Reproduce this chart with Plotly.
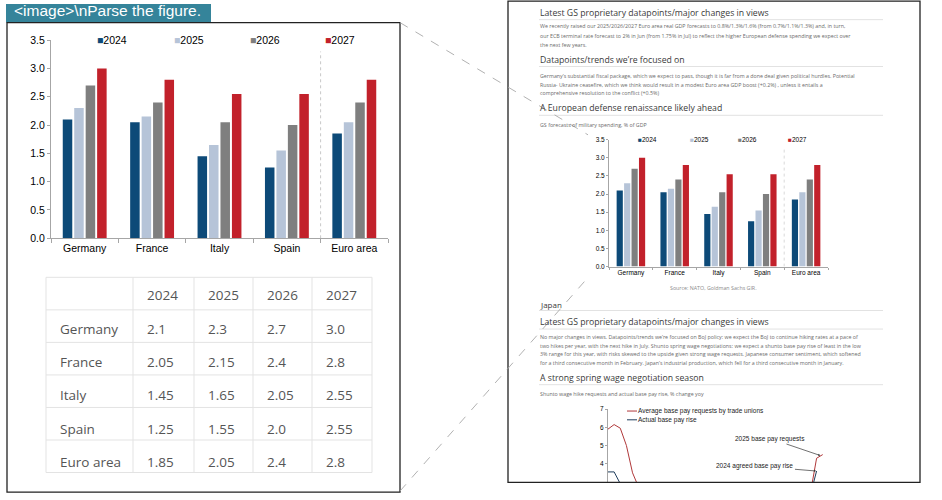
import plotly.graph_objects as go

W, H = 942, 500


def px(x):
    return x / W


def py(y):
    return 1 - y / H


# ---------------- data ----------------
categories = ["Germany", "France", "Italy", "Spain", "Euro area"]
years = ["2024", "2025", "2026", "2027"]
v2024 = [2.1, 2.05, 1.45, 1.25, 1.85]
v2025 = [2.3, 2.15, 1.65, 1.55, 2.05]
v2026 = [2.7, 2.4, 2.05, 2.0, 2.4]
v2027 = [3.0, 2.8, 2.55, 2.55, 2.8]
series = [v2024, v2025, v2026, v2027]

wage_years = list(range(1990, 2026))
pay_requests = [5.9, 6.15, 5.95, 5.0, 3.5, 2.7, 2.5, 2.4, 2.3, 1.8,
                1.5, 1.2, 0.8, 0.5, 0.5, 0.5, 0.6, 0.7, 0.8, 0.8,
                0.5, 0.5, 0.5, 0.5, 1.0, 2.0, 2.0, 1.8, 1.8, 1.8,
                1.7, 1.6, 1.8, 2.4, 4.3, 4.5]
pay_actual = [3.55, 3.55, 2.9, 2.2, 1.8, 1.2, 1.0, 0.9, 0.7, 0.4,
              0.3, 0.3, 0.1, 0.0, 0.0, 0.0, 0.0, 0.0, 0.0, 0.0,
              0.0, 0.0, 0.0, 0.0, 0.4, 0.7, 0.4, 0.5, 0.5, 0.5,
              0.3, 0.1, 0.6, 2.3, 3.6, None]

# ---------------- styles ----------------
colors = ["#0d4a78", "#b6c4d8", "#7f7f7f", "#c2212b"]
CHART_FONT = "Arial, Liberation Sans, sans-serif"
DOC_FONT = "Open Sans, Noto Sans, sans-serif"
AXIS_COLOR = "#a6a6a6"
GRID = "#e3e3e3"


def fmt(v):
    s = f"{v:.2f}"
    if s.endswith("0"):
        s = s[:-1]
    return s


fig = go.Figure()

# bars: zoomed chart (x/y) and small chart in document (x2/y2)
for xa, ya in (("x", "y"), ("x2", "y2")):
    for name, vals, col in zip(years, series, colors):
        fig.add_trace(go.Bar(x=categories, y=vals, name=name, marker_color=col,
                             marker_line_width=0, xaxis=xa, yaxis=ya,
                             showlegend=False, hoverinfo="skip"))

# wage lines (x3/y3)
fig.add_trace(go.Scatter(x=wage_years, y=pay_requests, mode="lines",
                         line=dict(color="#b0383a", width=1), xaxis="x3", yaxis="y3",
                         showlegend=False, hoverinfo="skip"))
fig.add_trace(go.Scatter(x=wage_years, y=pay_actual, mode="lines",
                         line=dict(color="#1f3d5c", width=1), xaxis="x3", yaxis="y3",
                         showlegend=False, hoverinfo="skip"))

# table (text only; grid drawn with shapes so text can sit centred in rows)
TBL_X = [46, 133, 194, 253, 312, 372]
TBL_TOP, TBL_BOT = 278, 478
ROW_H = (TBL_BOT - TBL_TOP) / 6
SHIFT_X, SHIFT_Y = 6, 5
cell_cols = [categories] + [[fmt(s[i]) for i in range(len(categories))] for s in series]
fig.add_trace(go.Table(
    domain=dict(x=[px(TBL_X[0] + SHIFT_X), px(TBL_X[-1] + SHIFT_X)],
                y=[py(TBL_BOT + SHIFT_Y), py(TBL_TOP + SHIFT_Y)]),
    columnwidth=[TBL_X[i + 1] - TBL_X[i] for i in range(5)],
    header=dict(values=[""] + years, height=ROW_H, align="left",
                fill_color="rgba(0,0,0,0)", line=dict(color="rgba(0,0,0,0)", width=0),
                font=dict(family=DOC_FONT, size=13.5, color="#555555")),
    cells=dict(values=cell_cols, height=ROW_H, align="left",
               fill_color="rgba(0,0,0,0)", line=dict(color="rgba(0,0,0,0)", width=0),
               font=dict(family=DOC_FONT, size=13.5, color="#555555")),
))

base_axis = dict(showgrid=False, zeroline=False, showline=True,
                 linecolor=AXIS_COLOR, linewidth=1, ticks="outside",
                 tickcolor=AXIS_COLOR, tickwidth=1)

fig.update_layout(
    width=W, height=H, margin=dict(l=0, r=0, t=0, b=0),
    paper_bgcolor="white", plot_bgcolor="rgba(0,0,0,0)",
    barmode="group", bargap=0.32, bargroupgap=0.17,
    showlegend=False,
    xaxis=dict(base_axis, domain=[px(51), px(388)], anchor="y", type="category",
               range=[-0.5, 4.5], tickson="boundaries", ticklen=4,
               tickfont=dict(family=CHART_FONT, size=10.5, color="#000")),
    yaxis=dict(base_axis, domain=[py(238), py(35)], anchor="x", range=[0, 3.5],
               dtick=0.5, tickformat=".1f", ticklen=3,
               tickfont=dict(family=CHART_FONT, size=10.5, color="#000")),
    xaxis2=dict(base_axis, domain=[px(609), px(828)], anchor="y2", type="category",
                range=[-0.5, 4.5], tickson="boundaries", ticklen=2.5,
                tickfont=dict(family=CHART_FONT, size=6.5, color="#000")),
    yaxis2=dict(base_axis, domain=[py(267), py(137)], anchor="x2", range=[0, 3.5],
                dtick=0.5, tickformat=".1f", ticklen=2,
                tickfont=dict(family=CHART_FONT, size=6.5, color="#000")),
    xaxis3=dict(domain=[px(608), px(835)], anchor="y3", range=[1990, 2027],
                visible=False, showgrid=False, zeroline=False),
    yaxis3=dict(base_axis, domain=[py(488), py(413)], anchor="x3", range=[2.98, 7.0],
                tickvals=[4, 5, 6, 7], ticklen=2,
                tickfont=dict(family=CHART_FONT, size=6.5, color="#000")),
)

shapes = []


def rect(x0, y0, x1, y1, **kw):
    shapes.append(dict(type="rect", xref="paper", yref="paper",
                       x0=px(x0), x1=px(x1), y0=py(y1), y1=py(y0), **kw))


def line(x0, y0, x1, y1, color, width=1, dash="solid", layer="above"):
    shapes.append(dict(type="line", xref="paper", yref="paper",
                       x0=px(x0), x1=px(x1), y0=py(y0), y1=py(y1), layer=layer,
                       line=dict(color=color, width=width, dash=dash)))


# header label box
rect(6, -2, 211, 17, fillcolor="#35849a", line=dict(width=0), layer="below")
# panels
rect(7, 17, 400, 498, line=dict(color="#222", width=1.3))
rect(508, -5, 920, 488, line=dict(color="#222", width=1.3))
# table grid
for k in range(7):
    yy = TBL_TOP + k * ROW_H
    line(TBL_X[0], yy, TBL_X[-1], yy, GRID, 1, layer="below")
for xx in TBL_X:
    line(xx, TBL_TOP, xx, TBL_BOT, GRID, 1, layer="below")
# heading underlines
for yy in (14, 62, 112, 312, 331, 388):
    line(539, yy, 883, yy, "#e2e2e2", 1)
# connector lines
line(400, 17, 588, 132, "#a8a8a8", 0.9, "dash")
line(400, 497, 589, 277, "#a8a8a8", 0.9, "dash")
# euro-area separators
shapes.append(dict(type="line", xref="x", yref="y", x0=3.5, x1=3.5, y0=0, y1=3.3,
                   line=dict(color="#c8c8c8", width=1, dash="dot")))
shapes.append(dict(type="line", xref="x2", yref="y2", x0=3.5, x1=3.5, y0=0, y1=3.3,
                   line=dict(color="#d0d0d0", width=0.8, dash="dot")))
# line-chart legend samples
line(627, 415, 637, 415, "#b0383a", 1)
line(627, 424, 637, 424, "#1f3d5c", 1)
fig.update_layout(shapes=shapes)


def txt(x, y, s, size, color, family=DOC_FONT, anchor="left"):
    fig.add_annotation(x=px(x), y=py(y), xref="paper", yref="paper", text=s,
                       showarrow=False, xanchor=anchor, yanchor="middle",
                       borderpad=0, font=dict(size=size, color=color, family=family))


# title label
txt(13, 5, "&lt;image&gt;\\nParse the figure.", 15.5, "white", CHART_FONT)

# legends of bar charts
for xx, name, col in zip((96, 173, 249, 324), years, colors):
    txt(xx, 35, f"<span style='color:{col}'>■</span>{name}", 10.5, "#000", CHART_FONT)
for xx, name, col in zip((637, 689, 737, 787), years, colors):
    txt(xx, 137, f"<span style='color:{col}'>■</span>{name}", 6.5, "#000", CHART_FONT)

HEAD = "#3a3a3a"
PARA = "#6a6a6a"
HS = 8.7
PS = 5.3

txt(539, 7, "Latest GS proprietary datapoints/major changes in views", HS, HEAD)
txt(539, 21, "We recently raised our 2025/2026/2027 Euro area real GDP forecasts to 0.8%/1.3%/1.6% (from 0.7%/1.1%/1.3%) and, in turn,", PS, PARA)
txt(539, 30.5, "our ECB terminal rate forecast to 2% in Jun (from 1.75% in Jul) to reflect the higher European defense spending we expect over", PS, PARA)
txt(539, 39.5, "the next few years.", PS, PARA)

txt(539, 55, "Datapoints/trends we’re focused on", HS, HEAD)
txt(539, 71.5, "Germany’s substantial fiscal package, which we expect to pass, though it is far from a done deal given political hurdles. Potential", PS, PARA)
txt(539, 80.5, "Russia- Ukraine ceasefire, which we think would result in a modest Euro area GDP boost (+0.2%) , unless it entails a", PS, PARA)
txt(539, 89, "comprehensive resolution to the conflict (+0.5%)", PS, PARA)

txt(539, 104, "A European defense renaissance likely ahead", HS, HEAD)
txt(539, 122, "GS forecasts of military spending, % of GDP", PS, PARA)
txt(713, 289, "Source: NATO, Goldman Sachs GIR.", PS, "#8a8a8a", anchor="center")

txt(539, 306, "Japan", 8, HEAD)
txt(539, 324, "Latest GS proprietary datapoints/major changes in views", HS, HEAD)
txt(539, 339, "No major changes in views. Datapoints/trends we’re focused on BoJ policy: we expect the BoJ to continue hiking rates at a pace of", PS, PARA)
txt(539, 348, "two hikes per year, with the next hike in July. Shunto spring wage negotiations: we expect a shunto base pay rise of least in the low", PS, PARA)
txt(539, 357, "3% range for this year, with risks skewed to the upside given strong wage requests. Japanese consumer sentiment, which softened", PS, PARA)
txt(539, 366, "for a third consecutive month in February. Japan’s industrial production, which fell for a third consecutive month in January.", PS, PARA)
txt(539, 381, "A strong spring wage negotiation season", HS, HEAD)
txt(539, 398, "Shunto wage hike requests and actual base pay rise, % change yoy", PS, PARA)

# line chart legend text
txt(637, 415, "Average base pay requests by trade unions", 6.5, "#222", CHART_FONT)
txt(637, 424, "Actual base pay rise", 6.5, "#222", CHART_FONT)

# line chart call-outs
fig.add_annotation(x=2024.6, y=4.45, xref="x3", yref="y3", ax=-50, ay=-17,
                   text="2025 base pay requests", showarrow=True, arrowhead=2,
                   arrowsize=0.6, arrowwidth=0.7, arrowcolor="#333",
                   font=dict(family=CHART_FONT, size=6.5, color="#222"))
fig.add_annotation(x=2023.9, y=3.6, xref="x3", yref="y3", ax=-61, ay=-5,
                   text="2024 agreed base pay rise", showarrow=True, arrowhead=2,
                   arrowsize=0.6, arrowwidth=0.7, arrowcolor="#333",
                   font=dict(family=CHART_FONT, size=6.5, color="#222"))

fig.write_html("out.html", config={"displayModeBar": False},
               post_script="document.body.style.margin='0';document.body.style.overflow='hidden';")
